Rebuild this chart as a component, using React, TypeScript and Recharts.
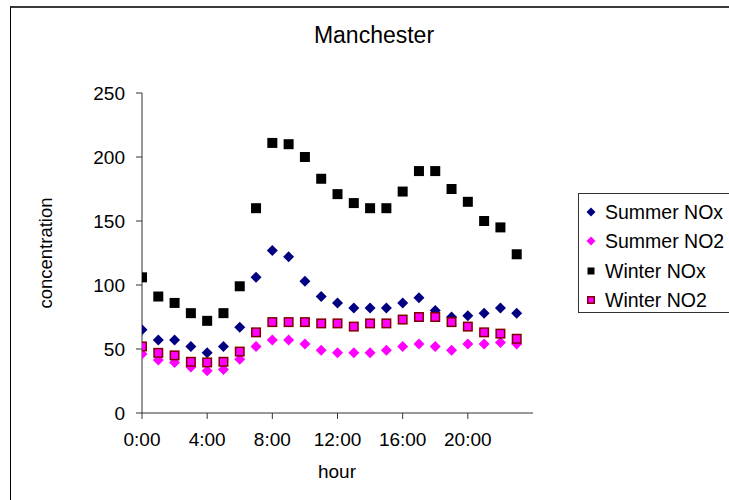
import React from 'react';
import { ScatterChart, Scatter, XAxis, YAxis } from 'recharts';

const hours = [0, 1, 2, 3, 4, 5, 6, 7, 8, 9, 10, 11, 12, 13, 14, 15, 16, 17, 18, 19, 20, 21, 22, 23];
const xTicks = [0, 4, 8, 12, 16, 20];
const yTicks = [0, 50, 100, 150, 200, 250];

const summerNOx = [65, 57, 57, 52, 47, 52, 67, 106, 127, 122, 103, 91, 86, 82, 82, 82, 86, 90, 80, 75, 76, 78, 82, 78];
const summerNO2 = [46, 41.5, 39.5, 36, 33, 34, 42, 52, 57, 57, 54, 49, 47, 47, 47, 49, 52, 54, 52, 49, 54, 54, 55, 54];
const winterNOx = [106, 91, 86, 78, 72, 78, 99, 160, 211, 210, 200, 183, 171, 164, 160, 160, 173, 189, 189, 175, 165, 150, 145, 124];
const winterNO2 = [52, 47, 45, 40, 39.5, 40, 48, 63, 71, 71, 71, 70, 70, 67.5, 70, 70, 73, 75, 75, 71, 67.5, 63, 62, 58];

const seriesNames = ['Summer NOx', 'Summer NO2', 'Winter NOx', 'Winter NO2'];

const FONT = 'Arial, "Liberation Sans", Helvetica, sans-serif';

const toData = (vals: number[]) => hours.map((h, i) => ({ h, v: vals[i] }));

const Diamond = ({ cx, cy, r, fill }: any) => (
  <polygon points={`${cx},${cy - r} ${cx + r},${cy} ${cx},${cy + r} ${cx - r},${cy}`} fill={fill} />
);
const Square = ({ cx, cy, s, fill, stroke }: any) => (
  <rect x={cx - s / 2} y={cy - s / 2} width={s} height={s} fill={fill} stroke={stroke || 'none'} strokeWidth={stroke ? 1.5 : 0} />
);

const marker = (idx: number, size: number) => (props: any) => {
  const { cx, cy } = props;
  if (cx == null || cy == null) return <g />;
  if (idx === 0) return <Diamond cx={cx} cy={cy} r={size * 0.55} fill="#000080" />;
  if (idx === 1) return <Diamond cx={cx} cy={cy} r={size * 0.55} fill="#FF00FF" />;
  if (idx === 2) return <Square cx={cx} cy={cy} s={size} fill="#000000" />;
  return <Square cx={cx} cy={cy} s={size - 1.5} fill="#FF00FF" stroke="#800000" />;
};

const legendSymbol = (idx: number) => {
  const cx = 6, cy = 6;
  if (idx === 0) return <Diamond cx={cx} cy={cy} r={4.5} fill="#000080" />;
  if (idx === 1) return <Diamond cx={cx} cy={cy} r={4.5} fill="#FF00FF" />;
  if (idx === 2) return <Square cx={cx} cy={cy} s={7} fill="#000000" />;
  return <Square cx={cx} cy={cy} s={6.5} fill="#FF00FF" stroke="#800000" />;
};

export default function App() {
  const seriesVals = [summerNOx, summerNO2, winterNOx, winterNO2];
  return (
    <div style={{ position: 'absolute', left: 0, top: 0, width: 729, height: 500, background: '#fff', overflow: 'hidden', fontFamily: FONT }}>
      <div style={{ position: 'absolute', left: 10, top: 6, width: 800, height: 600, borderTop: '2px solid #3a3a3a', borderLeft: '1px solid #000', boxSizing: 'border-box' }} />
      <div style={{ position: 'absolute', left: 0, top: 0 }}>
        <ScatterChart width={729} height={500} margin={{ top: 93, right: 196, bottom: 47, left: 0 }}>
          <XAxis
            type="number"
            dataKey="h"
            domain={[0, 24]}
            ticks={xTicks}
            tickFormatter={(h: number) => `${h}:00`}
            tickSize={6}
            tickMargin={14}
            height={40}
            stroke="#333"
            tick={{ fill: '#000', fontSize: 19, fontFamily: FONT }}
            allowDataOverflow
          />
          <YAxis
            type="number"
            dataKey="v"
            domain={[0, 250]}
            ticks={yTicks}
            tickSize={6}
            tickMargin={11}
            width={142}
            stroke="#333"
            tick={{ fill: '#000', fontSize: 19, fontFamily: FONT }}
          />
          {seriesVals.map((vals, i) => (
            <Scatter
              key={seriesNames[i]}
              name={seriesNames[i]}
              data={toData(vals)}
              isAnimationActive={false}
              shape={marker(i, 10)}
            />
          ))}
        </ScatterChart>
      </div>
      <svg width={729} height={500} style={{ position: 'absolute', left: 0, top: 0, pointerEvents: 'none' }}>
        <text x={374} y={43} textAnchor="middle" fontSize={23} fontFamily={FONT} fill="#000">Manchester</text>
        <text x={52} y={253} textAnchor="middle" fontSize={18.5} fontFamily={FONT} fill="#000" transform="rotate(-90 52 253)">concentration</text>
        <text x={337} y={478} textAnchor="middle" fontSize={19} fontFamily={FONT} fill="#000">hour</text>
      </svg>
      <div style={{ position: 'absolute', left: 578, top: 193, width: 170, height: 120, border: '1.5px solid #333', boxSizing: 'border-box', background: '#fff' }}>
        {seriesNames.map((name, i) => (
          <div key={name} style={{ position: 'absolute', left: 6, top: 6 + i * 29.3, height: 24, display: 'flex', alignItems: 'center', whiteSpace: 'nowrap' }}>
            <svg width={12} height={12} style={{ marginRight: 8 }}>{legendSymbol(i)}</svg>
            <span style={{ fontSize: 19.5, color: '#000', lineHeight: '24px' }}>{name}</span>
          </div>
        ))}
      </div>
    </div>
  );
}
